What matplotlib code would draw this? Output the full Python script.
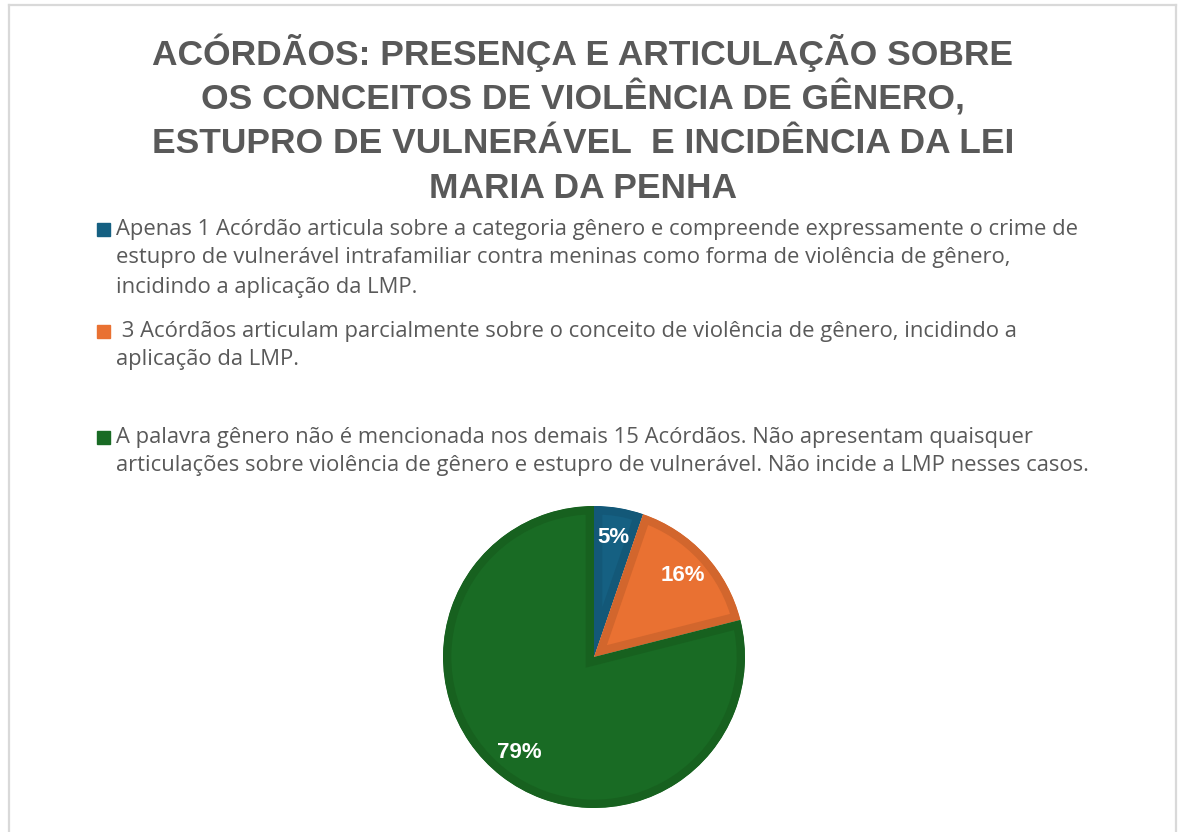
import math
import matplotlib.pyplot as plt
from matplotlib.lines import Line2D
from matplotlib.patches import Rectangle

W, H = 1179, 832

title_lines = ["ACÓRDÃOS: PRESENÇA E ARTICULAÇÃO SOBRE",
               "OS CONCEITOS DE VIOLÊNCIA DE GÊNERO,",
               "ESTUPRO DE VULNERÁVEL  E INCIDÊNCIA DA LEI",
               "MARIA DA PENHA"]

counts = [1, 3, 15]
pct_labels = ["5%", "16%", "79%"]
colors = ["#156082", "#E97132", "#196B24"]
edge_colors = ["#135878", "#D2662D", "#17611F"]
legend_lines = [
    ["Apenas 1 Acórdão articula sobre a categoria gênero e compreende expressamente o crime de",
     "estupro de vulnerável intrafamiliar contra meninas como forma de violência de gênero,",
     "incidindo a aplicação da LMP."],
    [" 3 Acórdãos articulam parcialmente sobre o conceito de violência de gênero, incidindo a",
     "aplicação da LMP."],
    ["A palavra gênero não é mencionada nos demais 15 Acórdãos. Não apresentam quaisquer",
     "articulações sobre violência de gênero e estupro de vulnerável. Não incide a LMP nesses casos."],
]
legend_top = [229, 331, 437]

fig = plt.figure(figsize=(W / 100, H / 100), dpi=100)

def fx(x):
    return x / W

def fy(y):
    return 1 - y / H

# light frame
border = "#D9D9D9"
fig.add_artist(Line2D([fx(9), fx(9)], [fy(5), 0], color=border, lw=1.6))
fig.add_artist(Line2D([fx(9), fx(1176)], [fy(5), fy(5)], color=border, lw=1.6))
fig.add_artist(Line2D([fx(1176), fx(1176)], [fy(5), 0], color=border, lw=1.6))

for i, line in enumerate(title_lines):
    fig.text(fx(583), fy(53 + i * 45.3), line, ha="center", va="center",
             fontsize=25.5, fontweight="bold", color="#595959",
             family="Liberation Sans")

for lines, y0, c in zip(legend_lines, legend_top, colors):
    fig.add_artist(Rectangle((fx(97), fy(y0 + 7)), 13 / W, 13 / H,
                             transform=fig.transFigure, color=c))
    for j, t in enumerate(lines):
        fig.text(fx(116), fy(y0 + j * 29), t, ha="left", va="center",
                 fontsize=15.8, color="#595959", family="Open Sans")

cx, cy, r = 594, 657, 151
ax = fig.add_axes([fx(cx - r), fy(cy + r), 2 * r / W, 2 * r / H])
wedges, _ = ax.pie(counts, colors=colors, startangle=90, counterclock=False,
                   radius=1.0,
                   wedgeprops=dict(linewidth=12, joinstyle="miter"))
for w, ec in zip(wedges, edge_colors):
    w.set_edgecolor(ec)
    w.set_clip_path(w)  # keep the border inside the slice
    w.set_clip_on(True)

tot = sum(counts)
acc = 0
for n, lab in zip(counts, pct_labels):
    mid = 90 - (acc + n / 2) / tot * 360
    acc += n
    d = 0.8
    ax.text(d * math.cos(math.radians(mid)), d * math.sin(math.radians(mid)), lab,
            ha="center", va="center", color="white", fontsize=16,
            fontweight="bold", family="Liberation Sans")
ax.set_xlim(-1, 1)
ax.set_ylim(-1, 1)
ax.set_aspect("equal")
ax.axis("off")

fig.savefig("out.png", dpi=100, facecolor="white")
